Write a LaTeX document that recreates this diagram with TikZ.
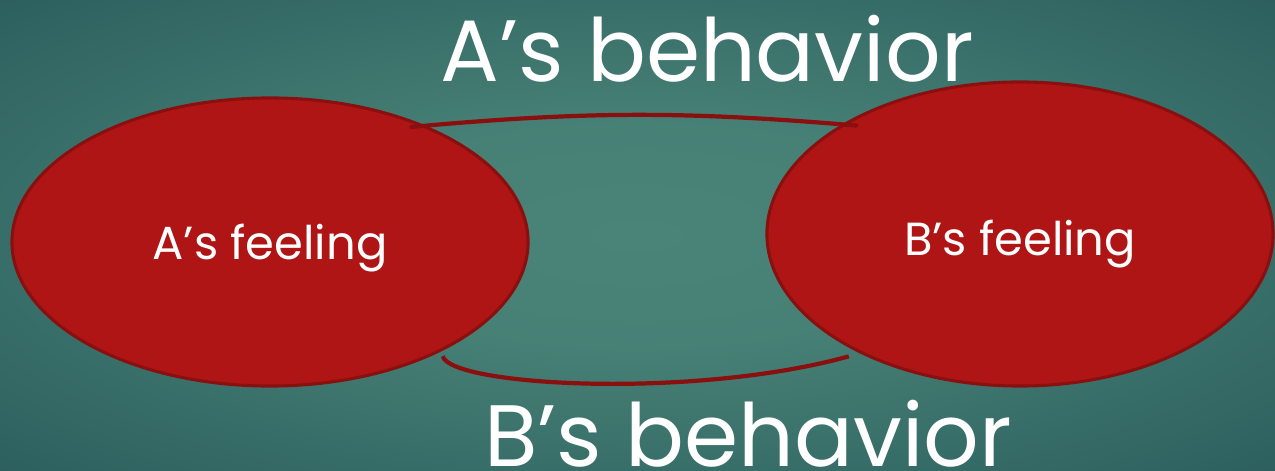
\documentclass[tikz,border=0pt]{standalone}
\usepackage{fontspec}
\setmainfont{Poppins}
\usetikzlibrary{shapes.geometric}

\definecolor{bgin}{HTML}{4A8478}
\definecolor{bgout}{HTML}{295C5C}
\definecolor{feelred}{HTML}{B01515}
\definecolor{feeledge}{HTML}{8A1010}
\pgfdeclareradialshading{bgglow}{\pgfpoint{0bp}{0bp}}{color(0bp)=(bgin); color(12bp)=(bgin!90!bgout); color(38bp)=(bgout); color(50bp)=(bgout)}

\begin{document}
\begin{tikzpicture}[x=0.025cm, y=-0.025cm,
    feel/.style={ellipse, draw=feeledge, line width=2.2pt, fill=feelred, inner sep=0pt, text=white, font=\fontsize{33}{36}\selectfont},
    behav/.style={text=white, anchor=base, inner sep=0pt, font=\fontsize{62}{66}\selectfont},
    loop/.style={draw=feeledge, line width=3pt, line cap=round}
]

% === FONDO ===
\shade[shading=bgglow] (0,0) rectangle (1275,471);
\useasboundingbox (0,0) rectangle (1275,471);

% === SENTIMIENTOS ===
\node[feel, minimum width=12.9cm, minimum height=7.2cm] (afeel) at (270,242) {\raisebox{-0.15cm}[\height][\depth]{A’s feeling}};
\node[feel, minimum width=12.65cm, minimum height=7.6cm] (bfeel) at (1020,234) {\raisebox{-0.25cm}[\height][\depth]{B’s feeling}};

% === COMPORTAMIENTOS ===
\node[behav] (abehav) at (707,82) {A’s behavior};
\node[behav] (bbehav) at (748,466) {B’s behavior};

% === CONEXIONES ===
\draw[loop] ([shift={(-3,6)}]afeel.40) to[bend left=5] ([shift={(6,6)}]bfeel.146);
\draw[loop, line cap=butt] ([shift={(3,4)}]afeel.-33) .. controls +(8,30) and +(-155,43) .. ([shift={(-5,6)}]bfeel.215);

\end{tikzpicture}
\end{document}
